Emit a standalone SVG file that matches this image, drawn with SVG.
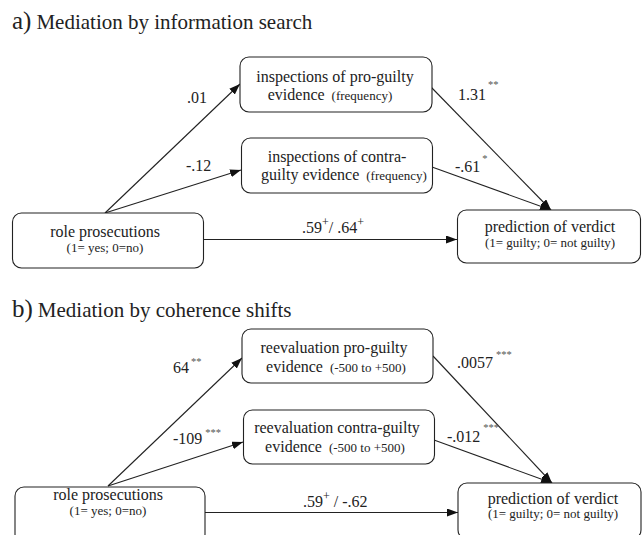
<svg xmlns="http://www.w3.org/2000/svg" width="643" height="535" viewBox="0 0 643 535">
<style>
text{font-family:'Liberation Serif', serif;fill:#222}
.box{fill:#fff;stroke:#222;stroke-width:1.1}
.t{font-size:16px;text-anchor:middle}
.s{font-size:13px}
.lab{font-size:16px}
.sup{font-size:10.5px;fill:#555}
.plus{font-size:12px}
.title{font-size:21px}
.big{font-size:25px}
.con line{stroke:#222;stroke-width:1.1;marker-end:url(#ah)}
</style>
<defs>
<marker id="ah" markerUnits="userSpaceOnUse" markerWidth="11" markerHeight="8" refX="11" refY="4" orient="auto">
<path d="M0,0 L11,4 L0,8 z" fill="#111"/>
</marker>
</defs>
<rect width="643" height="535" fill="#fff"/>

<text x="12" y="29"><tspan class="big">a)</tspan><tspan class="title" dx="5">Mediation by information search</tspan></text>
<text x="12" y="317"><tspan class="big">b)</tspan><tspan class="title" dx="5">Mediation by coherence shifts</tspan></text>

<g class="con">
<line x1="105" y1="213" x2="240" y2="84"/>
<line x1="105" y1="213" x2="241" y2="170"/>
<line x1="431" y1="87" x2="551" y2="210"/>
<line x1="432" y1="167" x2="551" y2="210"/>
<line x1="203" y1="239.5" x2="457" y2="239.5"/>
<line x1="108" y1="486" x2="242" y2="358"/>
<line x1="108" y1="486" x2="243" y2="442"/>
<line x1="433" y1="356" x2="552" y2="483"/>
<line x1="434" y1="440" x2="552" y2="483"/>
<line x1="205" y1="512.5" x2="458" y2="512.5"/>
</g>

<g id="a_pro">
<rect class="box" x="240" y="57" width="192" height="55" rx="9"/>
<text class="t" x="335" y="82">inspections of pro-guilty</text>
<text class="t" x="330" y="100">evidence<tspan class="s" dx="7">(frequency)</tspan></text>
</g>
<g id="a_contra">
<rect class="box" x="241.5" y="138" width="191" height="55" rx="9"/>
<text class="t" x="337" y="162">inspections of contra-</text>
<text class="t" x="344" y="180">guilty evidence<tspan class="s" dx="7">(frequency)</tspan></text>
</g>
<g id="a_role">
<rect class="box" x="12.5" y="213" width="191" height="55" rx="9"/>
<text class="t" x="105" y="237">role prosecutions</text>
<text class="t s" x="105" y="252">(1= yes; 0=no)</text>
</g>
<g id="a_pred">
<rect class="box" x="457.5" y="210" width="183" height="53" rx="9"/>
<text class="t" x="550" y="232">prediction of verdict</text>
<text class="t s" x="550" y="247">(1= guilty; 0= not guilty)</text>
</g>

<g id="b_pro">
<rect class="box" x="242" y="329" width="191" height="54" rx="9"/>
<text class="t" x="334" y="353">reevaluation pro-guilty</text>
<text class="t" x="336" y="372">evidence<tspan class="s" dx="7">(-500 to +500)</tspan></text>
</g>
<g id="b_contra">
<rect class="box" x="243.5" y="410" width="191" height="54" rx="9"/>
<text class="t" x="337" y="433">reevaluation contra-guilty</text>
<text class="t" x="335" y="452">evidence<tspan class="s" dx="7">(-500 to +500)</tspan></text>
</g>
<g id="b_role">
<rect class="box" x="15" y="487" width="190" height="56" rx="9"/>
<text class="t" x="108" y="500">role prosecutions</text>
<text class="t s" x="108" y="515">(1= yes; 0=no)</text>
</g>
<g id="b_pred">
<rect class="box" x="458" y="483" width="183" height="56" rx="9"/>
<text class="t" x="553" y="504">prediction of verdict</text>
<text class="t s" x="553" y="518">(1= guilty; 0= not guilty)</text>
</g>

<g id="labels">
<text class="lab" x="187" y="103">.01</text>
<text class="lab" x="186" y="171">-.12</text>
<text class="lab" x="458" y="100">1.31<tspan class="sup" dx="2" dy="-12">**</tspan></text>
<text class="lab" x="455" y="172">-.61<tspan class="sup" dx="2" dy="-10">*</tspan></text>
<text class="lab" x="302" y="233">.59<tspan class="plus" dy="-7">+</tspan><tspan dy="7">/ .64</tspan><tspan class="plus" dy="-7">+</tspan></text>
<text class="lab" x="173" y="373">64<tspan class="sup" dx="2" dy="-8">**</tspan></text>
<text class="lab" x="173" y="444">-109<tspan class="sup" dx="3" dy="-8">***</tspan></text>
<text class="lab" x="457" y="368">.0057<tspan class="sup" dx="3" dy="-10">***</tspan></text>
<text class="lab" x="447" y="442">-.012<tspan class="sup" dx="3" dy="-11">***</tspan></text>
<text class="lab" x="303" y="507">.59<tspan class="plus" dy="-7">+</tspan><tspan dy="7"> / -.62</tspan></text>
</g>
</svg>
